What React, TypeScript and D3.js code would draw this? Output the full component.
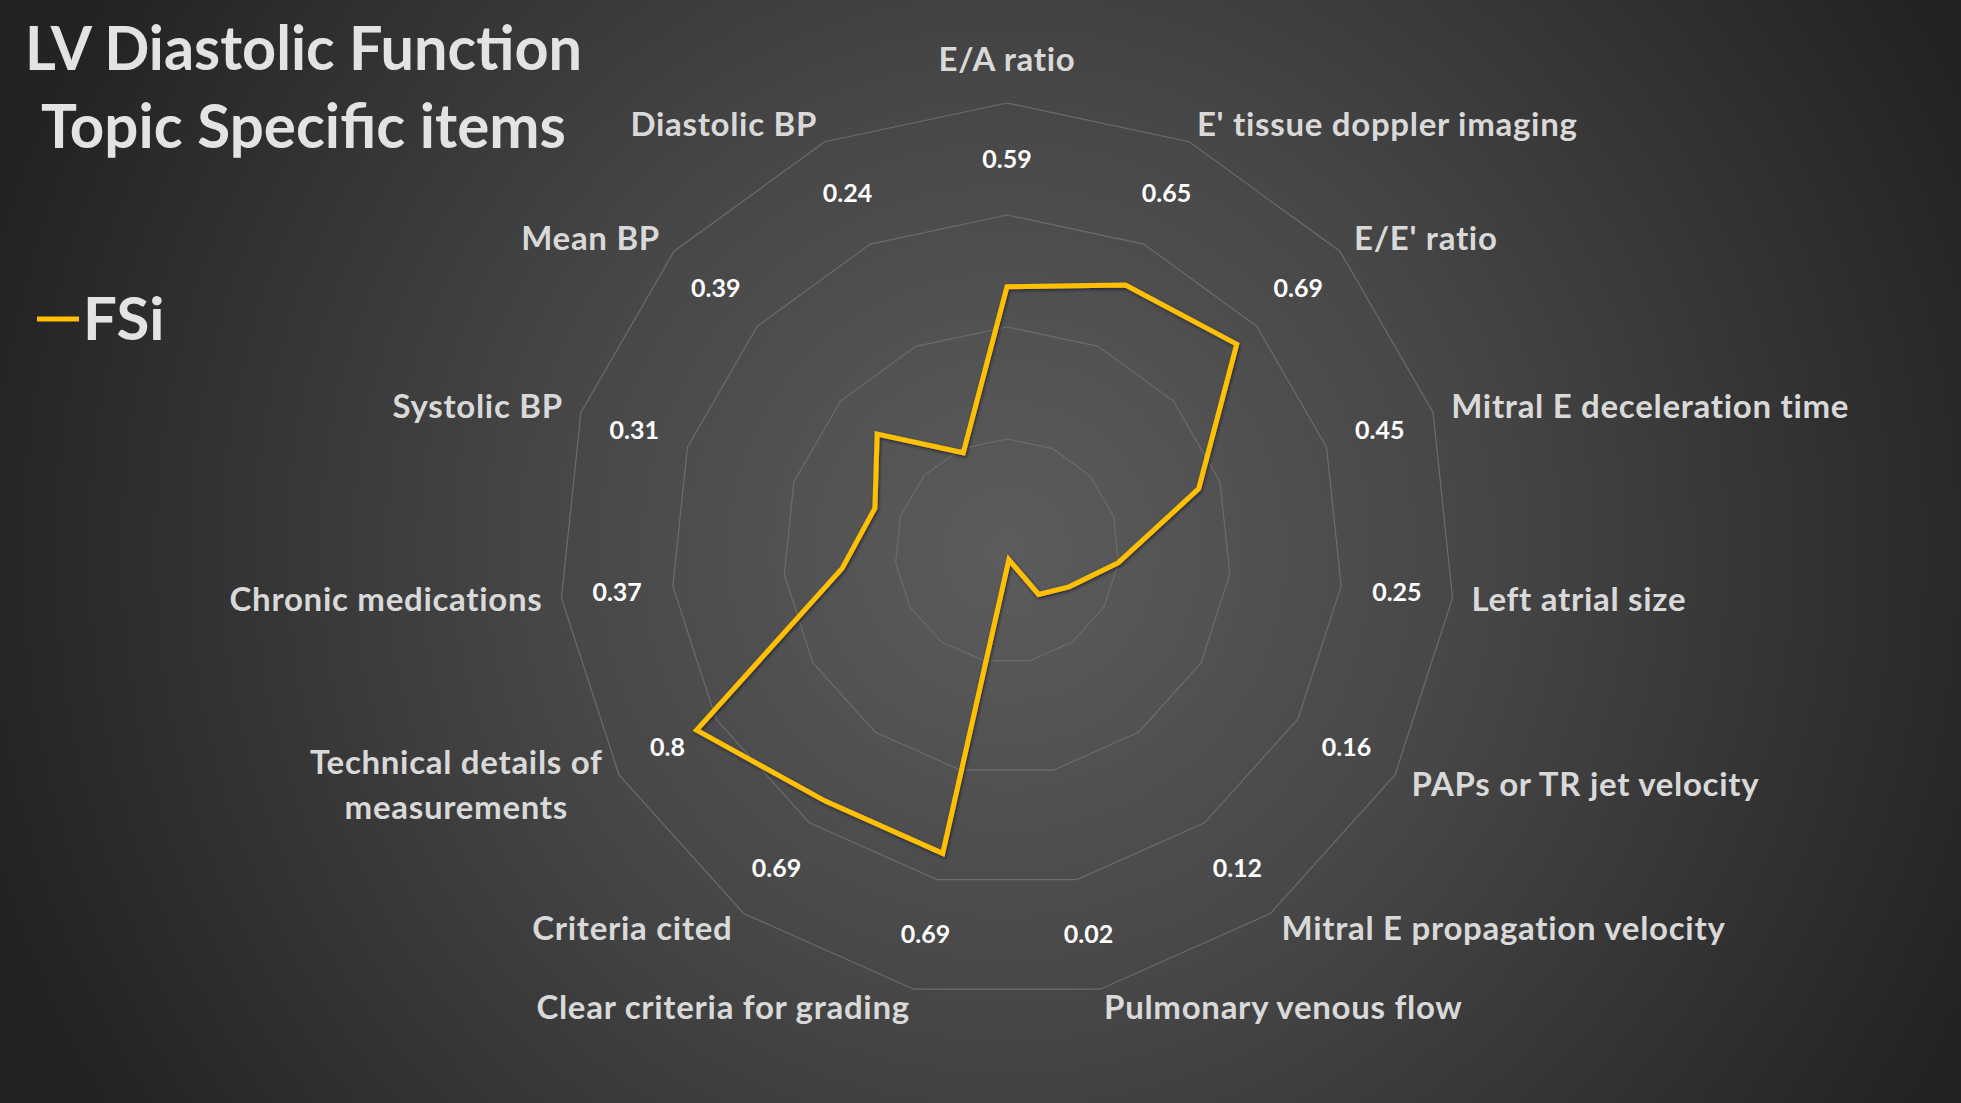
import React, { useEffect, useRef } from "react";
import * as d3 from "d3";

// chart data (clockwise from the top)
const categories = [
  "E/A ratio",
  "E' tissue doppler imaging",
  "E/E' ratio",
  "Mitral E deceleration time",
  "Left atrial size",
  "PAPs or TR jet velocity",
  "Mitral E propagation velocity",
  "Pulmonary venous flow",
  "Clear criteria for grading",
  "Criteria cited",
  "Technical details of\nmeasurements",
  "Chronic medications",
  "Systolic BP",
  "Mean BP",
  "Diastolic BP",
];
const fsiValues = [0.59, 0.65, 0.69, 0.45, 0.25, 0.16, 0.12, 0.02, 0.69, 0.69, 0.8, 0.37, 0.31, 0.39, 0.24];
const gridTicks = [0.25, 0.5, 0.75, 1];
const titleLines = ["LV Diastolic Function", "Topic Specific items"];
const seriesName = "FSi";

const W = 1961;
const H = 1103;

const App = () => {
  const ref = useRef<SVGSVGElement>(null);

  useEffect(() => {
    draw();
  });

  const draw = () => {
    const svg = d3.select(ref.current);
    svg.selectAll("*").remove();

    const cx = 1007;
    const cy = 551;
    const R = 448;
    const font = "Lato, 'Open Sans', sans-serif";

    const defs = svg.append("defs");
    const grad = defs
      .append("radialGradient")
      .attr("id", "bg")
      .attr("gradientUnits", "userSpaceOnUse")
      .attr("cx", cx)
      .attr("cy", cy)
      .attr("r", 1050);
    grad.append("stop").attr("offset", "0%").attr("stop-color", "#5c5c5c");
    grad.append("stop").attr("offset", "45%").attr("stop-color", "#464646");
    grad.append("stop").attr("offset", "100%").attr("stop-color", "#232323");

    const shadow = defs.append("filter").attr("id", "shadow").attr("x", "-10%").attr("y", "-10%").attr("width", "120%").attr("height", "120%");
    shadow
      .append("feDropShadow")
      .attr("dx", 1)
      .attr("dy", 1.5)
      .attr("stdDeviation", 1.5)
      .attr("flood-color", "#141a30")
      .attr("flood-opacity", 0.8);

    svg.append("rect").attr("width", W).attr("height", H).attr("fill", "url(#bg)");

    const r = d3.scaleLinear().domain([0, 1]).range([0, R]);
    const angle = d3
      .scaleLinear()
      .domain([0, categories.length])
      .range([0, 2 * Math.PI]);

    const px = (i: number, v: number) => cx + r(v) * Math.sin(angle(i));
    const py = (i: number, v: number) => cy - r(v) * Math.cos(angle(i));

    // grid rings
    gridTicks.forEach((t) => {
      svg
        .append("path")
        .attr("fill", "none")
        .attr("stroke", "#6c6c6c")
        .attr("stroke-width", 1.2)
        .attr(
          "d",
          d3
            .line<number>()
            .x((i) => px(i, t))
            .y((i) => py(i, t))
            .curve(d3.curveLinearClosed)(d3.range(categories.length))
        );
    });

    // series line
    const radial = d3
      .line<number>()
      .x((d, i) => px(i, d))
      .y((d, i) => py(i, d))
      .curve(d3.curveLinearClosed);
    svg
      .append("path")
      .datum(fsiValues)
      .attr("fill", "none")
      .attr("stroke", "#FFC000")
      .attr("stroke-width", 5)
      .attr("stroke-linejoin", "miter")
      .attr("filter", "url(#shadow)")
      .attr("d", radial);

    // value labels
    svg
      .append("g")
      .selectAll("text")
      .data(fsiValues)
      .join("text")
      .attr("x", (d, i) => px(i, 0.875))
      .attr("y", (d, i) => py(i, 0.875))
      .attr("dy", "0.35em")
      .attr("text-anchor", "middle")
      .attr("font-family", font)
      .attr("font-weight", 700)
      .attr("font-size", 25)
      .attr("fill", "#ffffff")
      .text((d) => String(d));

    // category labels
    const labR = 467 / R;
    const lineH = 45;
    categories.forEach((c, i) => {
      const s = Math.sin(angle(i));
      const anchor = Math.abs(s) < 0.01 ? "middle" : s > 0 ? "start" : "end";
      const x = px(i, labR);
      let y = py(i, labR);
      if (anchor === "middle") y -= 25;
      const lines = c.split("\n");
      const g = svg.append("g");
      const texts = lines.map((ln, k) =>
        g
          .append("text")
          .attr("x", x)
          .attr("y", y + (k - (lines.length - 1) / 2) * lineH)
          .attr("dy", "0.35em")
          .attr("text-anchor", anchor)
          .attr("font-family", font)
          .attr("font-weight", 700)
          .attr("font-size", 33)
          .attr("letter-spacing", 0.7)
          .attr("fill", "#d9d9d9")
          .text(ln)
      );
      if (lines.length > 1) {
        const widths = texts.map((t) => (t.node() as SVGTextElement).getComputedTextLength());
        const wMax = d3.max(widths) as number;
        const mid = anchor === "end" ? x - wMax / 2 : anchor === "start" ? x + wMax / 2 : x;
        texts.forEach((t) => t.attr("text-anchor", "middle").attr("x", mid));
      }
    });

    // title
    svg
      .append("g")
      .selectAll("text")
      .data(titleLines)
      .join("text")
      .attr("x", (d, i) => (i === 0 ? 25 : 41))
      .attr("y", (d, i) => (i === 0 ? 48 : 126))
      .attr("dy", "0.35em")
      .attr("font-family", font)
      .attr("font-weight", 700)
      .attr("font-size", 62)
      .attr("fill", "#e3e3e3")
      .attr("textLength", (d, i) => (i === 0 ? 557 : 525))
      .attr("lengthAdjust", "spacingAndGlyphs")
      .text((d) => d);

    // legend
    svg
      .append("line")
      .attr("x1", 37)
      .attr("x2", 79)
      .attr("y1", 319)
      .attr("y2", 319)
      .attr("stroke", "#FFC000")
      .attr("stroke-width", 5);
    svg
      .append("text")
      .attr("x", 83)
      .attr("y", 319)
      .attr("dy", "0.35em")
      .attr("font-family", font)
      .attr("font-weight", 700)
      .attr("font-size", 60)
      .attr("fill", "#e3e3e3")
      .text(seriesName);
  };

  return (
    <svg
      ref={ref}
      width={W}
      height={H}
      style={{ position: "absolute", left: 0, top: 0, display: "block" }}
    />
  );
};

export default App;
